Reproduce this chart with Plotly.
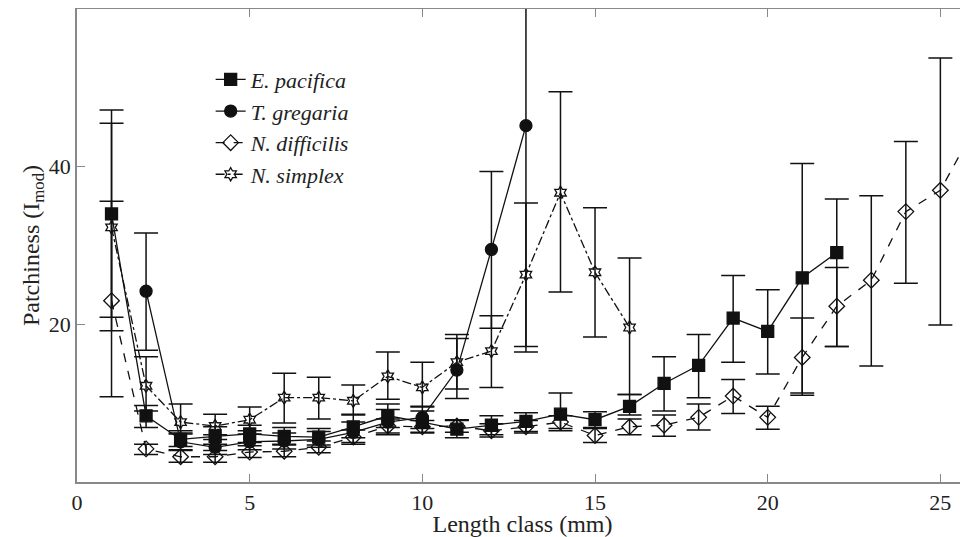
import plotly.graph_objects as go

SERIF = "Liberation Serif"

# E. pacifica
ep_x = list(range(1, 23))
ep_y = [34.0, 8.4, 5.4, 5.8, 6.1, 5.8, 5.7, 7.0, 8.4, 7.6, 6.7, 7.2, 7.7, 8.6, 7.9, 9.6, 12.5, 14.8, 20.8, 19.1, 25.9, 29.1]
ep_hi = [47.2, 9.7, 6.5, 7.0, 7.2, 6.9, 6.8, 8.5, 9.9, 9.0, 7.8, 8.4, 8.8, 11.3, 8.9, 11.1, 15.9, 18.7, 26.2, 24.4, 40.4, 35.9]
ep_lo = [20.9, 6.9, 4.5, 4.8, 5.0, 4.8, 4.7, 5.6, 6.9, 6.3, 5.6, 6.0, 6.4, 6.5, 6.9, 8.5, 9.0, 10.7, 15.2, 13.7, 11.3, 17.2]

# T. gregaria
tg_x = list(range(2, 14))
tg_y = [24.2, 5.1, 4.4, 5.1, 5.2, 5.4, 6.3, 7.6, 8.2, 14.2, 29.5, 45.2]
tg_hi = [31.6, 6.2, 5.4, 6.1, 6.2, 6.4, 7.6, 9.2, 9.6, 18.2, 39.4, 70.0]
tg_lo = [16.7, 4.1, 3.5, 4.1, 4.2, 4.4, 5.0, 6.0, 6.8, 10.6, 19.5, 17.2]

# N. difficilis
nd_x = list(range(1, 27))
nd_y = [23.0, 4.2, 3.2, 3.2, 3.8, 3.9, 4.4, 5.7, 7.1, 7.0, 7.1, 6.5, 7.0, 7.6, 5.9, 7.0, 7.2, 8.2, 10.9, 8.2, 15.8, 22.3, 25.6, 34.3, 37.0, 45.0]
nd_hi = [35.6, 4.8, 4.0, 4.0, 4.6, 4.7, 5.2, 6.6, 8.0, 7.8, 7.9, 7.4, 7.8, 8.4, 6.8, 8.0, 8.5, 9.9, 13.0, 9.6, 20.8, 27.2, 36.3, 43.2, 53.8, 62.0]
nd_lo = [10.8, 3.5, 2.5, 2.5, 3.1, 3.2, 3.7, 4.8, 6.2, 6.2, 6.3, 5.7, 6.2, 6.8, 5.0, 6.0, 5.8, 6.6, 8.7, 6.7, 11.0, 17.2, 14.7, 25.2, 19.9, 22.5]

# N. simplex
ns_x = list(range(1, 17))
ns_y = [32.3, 12.2, 7.6, 7.1, 7.9, 10.7, 10.7, 10.3, 13.4, 12.0, 15.2, 16.6, 26.3, 36.7, 26.6, 19.6]
ns_hi = [45.5, 15.9, 9.9, 8.6, 9.5, 13.8, 13.3, 12.3, 16.5, 15.2, 18.7, 21.1, 35.4, 49.5, 34.8, 28.4]
ns_lo = [19.2, 9.0, 6.1, 6.0, 6.5, 7.5, 8.0, 8.6, 10.5, 9.5, 11.8, 12.0, 16.5, 24.1, 18.4, 11.1]

series = [
    ("<i>E. pacifica</i>", ep_x, ep_y, ep_hi, ep_lo, "square", "solid"),
    ("<i>T. gregaria</i>", tg_x, tg_y, tg_hi, tg_lo, "circle", "solid"),
    ("<i>N. difficilis</i>", nd_x, nd_y, nd_hi, nd_lo, "diamond-open", "dash"),
    ("<i>N. simplex</i>", ns_x, ns_y, ns_hi, ns_lo, "hexagram-open", "dashdot"),
]

fig = go.Figure()
for name, x, y, hi, lo, sym, dash in series:
    fig.add_trace(go.Scatter(
        x=x, y=y, name=name, mode="lines+markers",
        line=dict(color="#111", width=1.3, dash=dash),
        marker=dict(symbol=sym, size=12 if sym != "hexagram-open" else 10, color="#111",
                    line=dict(color="#111", width=1.3)),
        error_y=dict(type="data", symmetric=False,
                     array=[h - v for h, v in zip(hi, y)],
                     arrayminus=[v - l for v, l in zip(y, lo)],
                     color="#111", thickness=1.5, width=12),
    ))

fig.update_layout(
    template="none",
    width=960, height=529, margin=dict(l=69, r=0, t=1, b=55),
    paper_bgcolor="white", plot_bgcolor="white",
    font=dict(family=SERIF, size=22, color="#222"),
    legend=dict(x=0.15, y=0.895, xanchor="left", yanchor="top", bgcolor="rgba(0,0,0,0)",
                font=dict(family=SERIF, size=22, color="#222"), tracegroupgap=0, itemwidth=30),
    showlegend=True,
)
common = dict(showline=True, linecolor="#888", linewidth=1.5, mirror="ticks",
              ticks="inside", ticklen=8, tickcolor="#888", showgrid=False, zeroline=False,
              tickfont=dict(family=SERIF, size=22, color="#222"))
fig.update_xaxes(**common, range=[0, 25.8], tickvals=[0, 5, 10, 15, 20, 25],
                 title=dict(text="Length class (mm)", font=dict(family=SERIF, size=24), standoff=0))
fig.update_yaxes(**common, range=[0, 60], tickvals=[20, 40],
                 title=dict(text="Patchiness (I<sub>mod</sub>)", font=dict(family=SERIF, size=24), standoff=2))
fig.write_html("out.html")
